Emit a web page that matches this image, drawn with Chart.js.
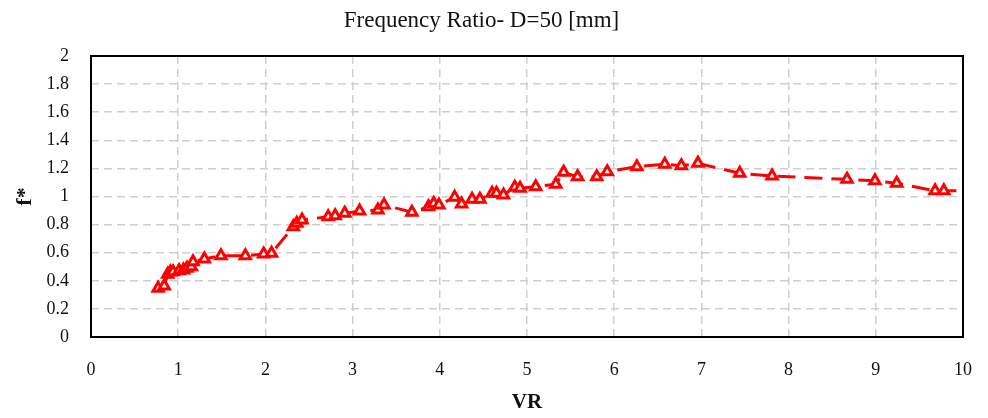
<!DOCTYPE html>
<html>
<head>
<meta charset="utf-8">
<script src="https://cdn.jsdelivr.net/npm/chart.js@4"></script>
<style>
  html, body { margin: 0; padding: 0; background: #fff; }
  #wrap { width: 988px; height: 418px; }
</style>
</head>
<body>
<div id="wrap"><canvas id="freqChart" width="988" height="418"></canvas></div>
<script>
// reduced velocity and frequency ratio
const vr = [0.77, 0.84, 0.88, 0.91, 0.94, 1.01, 1.06, 1.10, 1.15, 1.17, 1.30, 1.49, 1.77, 1.98, 2.07,
  2.32, 2.36, 2.42, 2.72, 2.80, 2.91, 3.08, 3.29, 3.36,
  3.68, 3.87, 3.93, 3.99, 4.17, 4.25, 4.37, 4.46, 4.60, 4.65, 4.73, 4.86, 4.92,
  5.10, 5.33, 5.42, 5.58, 5.80, 5.92, 6.26, 6.58, 6.77, 6.96,
  7.44, 7.81, 8.67, 8.99, 9.24, 9.68, 9.78, 10.3];
const fStar = [0.347, 0.363, 0.446, 0.463, 0.465, 0.472, 0.477, 0.489, 0.50, 0.536, 0.555, 0.579, 0.579, 0.59, 0.596,
  0.785, 0.809, 0.833, 0.856, 0.863, 0.88, 0.897, 0.904, 0.94,
  0.888, 0.927, 0.951, 0.94, 0.994, 0.947, 0.98, 0.98, 1.023, 1.023, 1.01, 1.065, 1.058,
  1.07, 1.087, 1.172, 1.141, 1.141, 1.177, 1.212, 1.229, 1.219, 1.236,
  1.165, 1.146, 1.122, 1.112, 1.094, 1.041, 1.041, 1.041];

const xTicks = [0, 1, 2, 3, 4, 5, 6, 7, 8, 9, 10];
const yTicks = [0, 0.2, 0.4, 0.6, 0.8, 1, 1.2, 1.4, 1.6, 1.8, 2];

const serif = "'Liberation Serif', 'DejaVu Serif', serif";

// black frame around the plot area
const framePlugin = {
  id: 'frame',
  afterDraw(c) {
    const a = c.chartArea, ctx = c.ctx;
    ctx.save();
    ctx.strokeStyle = '#000';
    ctx.lineWidth = 2;
    ctx.strokeRect(a.left, a.top, a.right - a.left, a.bottom - a.top);
    ctx.restore();
  }
};

const points = vr.map((x, i) => ({ x, y: fStar[i] }));

new Chart(document.getElementById('freqChart'), {
  type: 'line',
  data: {
    datasets: [{
      data: points,
      borderColor: '#ff0000',
      borderWidth: 3,
      borderDash: [18, 9],
      pointStyle: 'triangle',
      pointRadius: 6,
      pointBorderWidth: 3,
      pointBackgroundColor: '#fff',
      pointBorderColor: '#ff0000',
      tension: 0,
      clip: 0
    }]
  },
  options: {
    responsive: false,
    animation: false,
    layout: { padding: { left: 0, right: 25, top: 0, bottom: 0 } },
    plugins: {
      legend: { display: false },
      tooltip: { enabled: false },
      title: {
        display: true,
        text: 'Frequency Ratio- D=50 [mm]',
        color: '#111',
        font: { family: serif, size: 23, weight: 'normal' },
        padding: { top: 7, bottom: 21.4 }
      }
    },
    scales: {
      x: {
        type: 'linear',
        min: 0, max: 10,
        afterBuildTicks: s => { s.ticks = xTicks.map(v => ({ value: v })); },
        afterFit: s => { s.height = 81; s.paddingLeft = 0; s.paddingRight = 0; },
        grid: { color: '#cfcfcf', lineWidth: 1.5, drawTicks: false },
        border: { display: false, dash: [8, 5] },
        ticks: { color: '#111', padding: 22, font: { family: serif, size: 18 } },
        title: {
          display: true, text: 'VR', color: '#111', padding: 3,
          font: { family: serif, size: 21, weight: 'bold' }
        }
      },
      y: {
        min: 0, max: 2,
        afterBuildTicks: s => { s.ticks = yTicks.map(v => ({ value: v })); },
        afterFit: s => { s.width = 91; },
        grid: { color: '#cfcfcf', lineWidth: 1.5, drawTicks: false },
        border: { display: false, dash: [8, 5] },
        ticks: {
          color: '#111', padding: 22, font: { family: serif, size: 18 },
          callback: v => String(v)
        },
        title: {
          display: true, text: 'f*', color: '#111', padding: 12,
          font: { family: serif, size: 22, weight: 'bold' }
        }
      }
    }
  },
  plugins: [framePlugin]
});
</script>
</body>
</html>
